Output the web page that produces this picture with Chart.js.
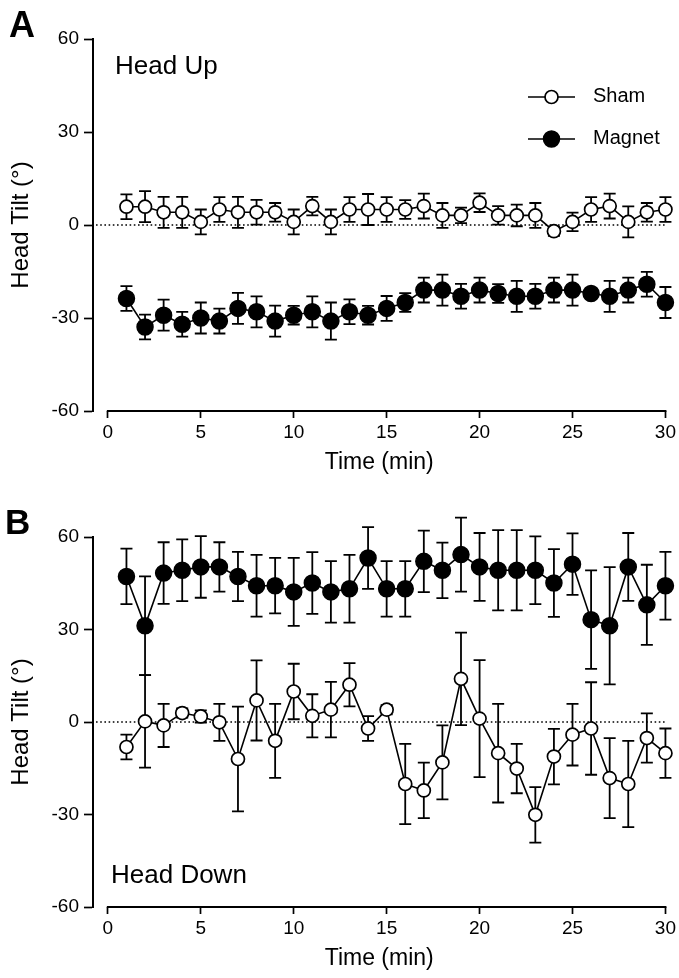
<!DOCTYPE html>
<html>
<head>
<meta charset="utf-8">
<title>Head Tilt</title>
<script src="https://cdn.jsdelivr.net/npm/chart.js@4.4.0/dist/chart.umd.min.js"></script>
<style>
  body { margin: 0; background: #fff; }
  #page { position: relative; width: 679px; height: 978px; font-family: "Liberation Sans", Arial, sans-serif; color: #000; }
  .panel { position: absolute; left: 0; width: 679px; height: 489px; }
  .letter { position: absolute; font-weight: bold; line-height: 1; }
  .cond { position: absolute; font-size: 26px; line-height: 1; white-space: nowrap; }
</style>
</head>
<body>
<div id="page">
  <div class="panel" style="top:0"><canvas id="chartUp"></canvas></div>
  <div class="panel" style="top:489px"><canvas id="chartDown"></canvas></div>
  <div class="letter" style="left:9px;top:7px;font-size:36px">A</div>
  <div class="letter" style="left:5px;top:504px;font-size:35px">B</div>
  <div class="cond" style="left:115px;top:52px">Head Up</div>
  <div class="cond" style="left:111px;top:861px">Head Down</div>
</div>
<script>
// time points (min)
const minutes = [1, 2, 3, 4, 5, 6, 7, 8, 9, 10, 11, 12, 13, 14, 15, 16, 17, 18, 19, 20, 21, 22, 23, 24, 25, 26, 27, 28, 29, 30];
const xTicks = [0, 5, 10, 15, 20, 25, 30];
const yTicks = [-60, -30, 0, 30, 60];
const seriesNames = ['Sham', 'Magnet'];

// A - head up
const upSham = [5.9, 5.9, 4.1, 4.1, 1.0, 5.0, 4.1, 4.1, 4.1, 1.0, 6.1, 1.0, 5.0, 5.0, 5.0, 5.0, 6.1, 3.1, 3.1, 7.2, 3.1, 3.1, 3.1, -2.0, 1.0, 5.0, 6.1, 1.0, 4.1, 5.0];
const upShamErr = [4, 5, 5, 5, 4, 4, 5, 4, 3, 4, 3, 4, 4, 5, 4, 3, 4, 4, 2.5, 3, 3, 3.5, 4, 1.5, 3, 4, 4, 5, 3, 4];
const upMagnet = [-23.7, -32.9, -29.1, -32.0, -30.0, -31.0, -26.9, -28.0, -31.0, -29.1, -28.0, -31.0, -28.0, -29.1, -26.9, -25.0, -21.0, -21.0, -23.0, -21.0, -22.1, -23.0, -23.0, -21.0, -21.0, -22.1, -23.0, -21.0, -19.1, -25.0];
const upMagnetErr = [4, 4, 5, 4, 5, 4, 5, 5, 5, 3, 5, 6, 4, 3, 4, 3, 4, 5, 4, 4, 3, 5, 4, 4, 5, 1.5, 5, 4, 4, 5];

// B - head down
const downSham = [-8.1, 0.2, -1.1, 2.9, 1.8, -0.1, -12.0, 7.0, -6.1, 9.9, 2.0, 4.0, 12.1, -2.1, 4.0, -20.1, -22.2, -13.1, 14.0, 1.1, -10.1, -15.1, -30.1, -11.2, -4.1, -2.1, -18.2, -20.1, -5.2, -10.1];
const downShamErr = [4, 15, 7, 1.5, 2, 6, 17, 13, 12, 9, 7, 9, 7, 4, 1.5, 13, 9, 12, 15, 19, 16, 8, 9, 9, 10, 15, 13, 14, 8, 8];
const downMagnet = [47.2, 31.2, 48.3, 49.2, 50.3, 50.3, 47.2, 44.2, 44.2, 42.2, 45.1, 42.2, 43.2, 53.2, 43.2, 43.2, 52.1, 49.2, 54.3, 50.3, 49.2, 49.2, 49.2, 45.1, 51.2, 33.2, 31.2, 50.3, 38.0, 44.2];
const downMagnetErr = [9, 16, 10, 10, 10, 8, 8, 10, 9, 11, 10, 10, 11, 10, 9, 9, 10, 9, 12, 11, 13, 13, 11, 11, 10, 16, 19, 11, 13, 11];

Chart.defaults.font.family = '"Liberation Sans", Arial, sans-serif';
Chart.defaults.color = '#000';

// error bars, dotted zero line and the x axis line (0..30 only)
const errorBars = {
    id: 'errorBars',
    beforeDatasetsDraw(chart) {
        const ctx = chart.ctx;
        const xs = chart.scales.x;
        const ys = chart.scales.y;
        const area = chart.chartArea;
        ctx.save();
        ctx.strokeStyle = '#000';

        ctx.lineWidth = 1.6;
        ctx.setLineDash([1.6, 2.6]);
        ctx.beginPath();
        ctx.moveTo(area.left + 3, ys.getPixelForValue(0));
        ctx.lineTo(xs.getPixelForValue(xTicks[xTicks.length - 1]), ys.getPixelForValue(0));
        ctx.stroke();
        ctx.setLineDash([]);

        ctx.lineWidth = 2;
        ctx.beginPath();
        ctx.moveTo(xs.getPixelForValue(xTicks[0]) - 1, area.bottom);
        ctx.lineTo(xs.getPixelForValue(xTicks[xTicks.length - 1]) + 1, area.bottom);
        ctx.stroke();

        ctx.lineWidth = 1.8;
        chart.data.datasets.forEach((ds) => {
            ds.data.forEach((p, i) => {
                const px = xs.getPixelForValue(p.x);
                const top = ys.getPixelForValue(p.y + ds.errors[i]);
                const bot = ys.getPixelForValue(p.y - ds.errors[i]);
                ctx.beginPath();
                ctx.moveTo(px, top);
                ctx.lineTo(px, bot);
                ctx.moveTo(px - 6, top);
                ctx.lineTo(px + 6, top);
                ctx.moveTo(px - 6, bot);
                ctx.lineTo(px + 6, bot);
                ctx.stroke();
            });
        });
        ctx.restore();
    }
};

// line + marker legend
const keyLegend = {
    id: 'keyLegend',
    afterDraw(chart, args, opts) {
        if (!opts.show) return;
        const ctx = chart.ctx;
        ctx.save();
        chart.data.datasets.forEach((ds, i) => {
            const y = opts.y + i * opts.step;
            ctx.strokeStyle = '#000';
            ctx.lineWidth = 1.6;
            ctx.beginPath();
            ctx.moveTo(opts.x, y);
            ctx.lineTo(opts.x + 47, y);
            ctx.stroke();
            ctx.beginPath();
            ctx.arc(opts.x + 23.5, y, ds.pointRadius, 0, Math.PI * 2);
            ctx.fillStyle = ds.pointBackgroundColor;
            ctx.fill();
            ctx.lineWidth = ds.pointBorderWidth;
            ctx.stroke();
            ctx.fillStyle = '#000';
            ctx.font = '20px "Liberation Sans", Arial, sans-serif';
            ctx.textBaseline = 'middle';
            ctx.fillText(ds.label, opts.x + 65, y - 1);
        });
        ctx.restore();
    }
};

function points(values) {
    return minutes.map((m, i) => ({ x: m, y: values[i] }));
}

function makePanel(id, sham, shamErr, magnet, magnetErr, box) {
    return new Chart(document.getElementById(id), {
        type: 'line',
        data: {
            datasets: [{
                label: seriesNames[0],
                data: points(sham),
                errors: shamErr,
                borderColor: '#000',
                borderWidth: 1.6,
                pointRadius: 6.5,
                pointBackgroundColor: '#fff',
                pointBorderColor: '#000',
                pointBorderWidth: 1.7,
                clip: false
            }, {
                label: seriesNames[1],
                data: points(magnet),
                errors: magnetErr,
                borderColor: '#000',
                borderWidth: 1.6,
                pointRadius: 8,
                pointBackgroundColor: '#000',
                pointBorderColor: '#000',
                pointBorderWidth: 1.5,
                clip: false
            }]
        },
        options: {
            responsive: true,
            maintainAspectRatio: false,
            animation: false,
            events: [],
            layout: { padding: { top: box.top, right: 13, left: 0, bottom: 0 } },
            plugins: {
                legend: { display: false },
                tooltip: { enabled: false },
                keyLegend: { show: box.legend, x: 528, y: 97, step: 42 }
            },
            scales: {
                x: {
                    type: 'linear',
                    min: -0.8,
                    max: 30,
                    afterBuildTicks: (s) => { s.ticks = xTicks.map(v => ({ value: v })); },
                    afterFit: (s) => { s.height = box.xHeight; },
                    border: { display: false },
                    grid: { drawOnChartArea: false, drawTicks: true, tickLength: 7, tickWidth: 1.7, tickColor: '#000' },
                    ticks: { font: { size: 19 }, padding: 3, maxRotation: 0, callback: v => String(v) },
                    title: { display: true, text: 'Time (min)', font: { size: 23 }, padding: { top: 0, bottom: box.titlePad } }
                },
                y: {
                    min: -60,
                    max: 60,
                    afterBuildTicks: (s) => { s.ticks = yTicks.map(v => ({ value: v })); },
                    afterFit: (s) => { s.width = 93; },
                    border: { display: true, color: '#000', width: 2 },
                    grid: { drawOnChartArea: false, drawTicks: true, tickLength: 9, tickWidth: 1.7, tickColor: '#000' },
                    ticks: { font: { size: 19 }, padding: 5, callback: v => String(v) },
                    title: { display: true, text: 'Head Tilt (°)', font: { size: 24 }, padding: { top: 7, bottom: 0 } }
                }
            }
        },
        plugins: [errorBars, keyLegend]
    });
}

makePanel('chartUp', upSham, upShamErr, upMagnet, upMagnetErr, { top: 39, xHeight: 78, titlePad: 13, legend: true });
makePanel('chartDown', downSham, downShamErr, downMagnet, downMagnetErr, { top: 48, xHeight: 71, titlePad: 6, legend: false });
</script>
</body>
</html>
